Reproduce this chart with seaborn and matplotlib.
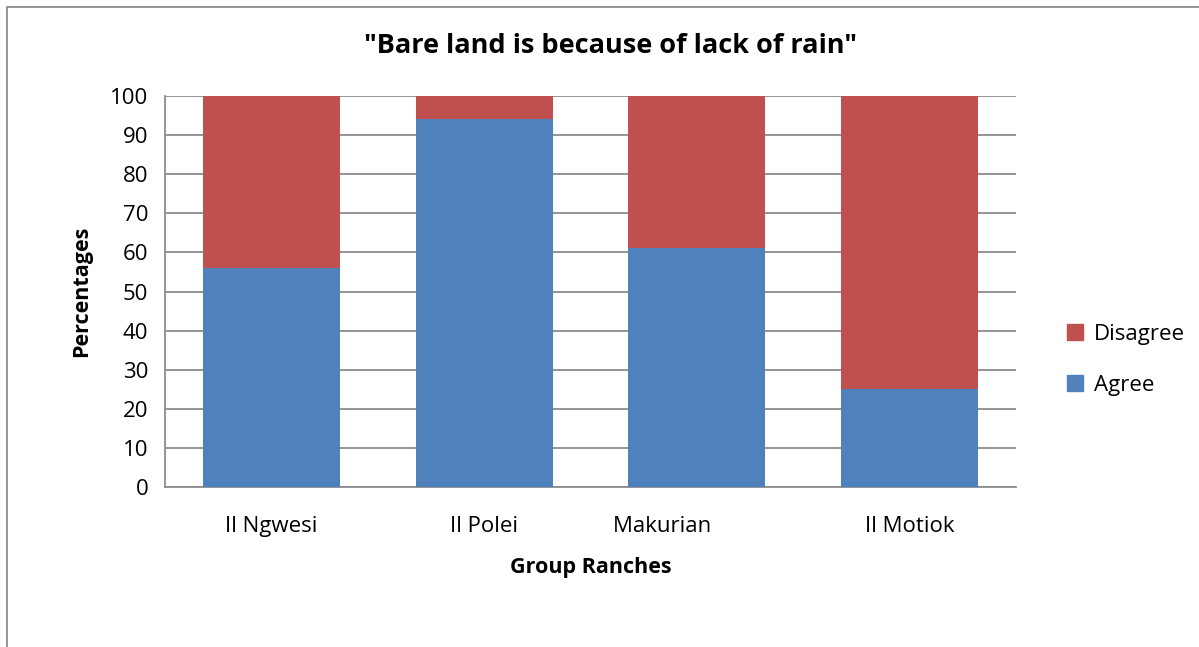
import pandas as pd
import numpy as np
import matplotlib
matplotlib.use('Agg')
import matplotlib.pyplot as plt
import seaborn as sns
from matplotlib.patches import Patch, Rectangle

# --- data ---
ranches = ['Il Ngwesi', 'Il Polei', 'Makurian', 'Il Motiok']
agree = [56, 94, 61, 25]
disagree = [44, 6, 39, 75]
tick_labels = ['Il Ngwesi', 'Il Polei', 'Makurian            ', 'Il Motiok']

df = pd.DataFrame({'Ranch': ranches, 'Agree': agree, 'Disagree': disagree})
df['Total'] = df['Agree'] + df['Disagree']

sns.set_style('white')
plt.rcParams['font.family'] = ['Open Sans', 'DejaVu Sans']
plt.rcParams['text.color'] = 'black'
plt.rcParams['xtick.color'] = 'black'
plt.rcParams['ytick.color'] = 'black'
plt.rcParams['axes.labelcolor'] = 'black'

blue = '#4F81BD'
red = '#C0504D'
grid_c = '#8C8C8C'

fig = plt.figure(figsize=(11.99, 6.47), dpi=100)
ax = fig.add_axes([165 / 1199, 1 - 487 / 647, 851 / 1199, 391 / 647])

# stacked: full bar red, agree part blue on top of it
sns.barplot(data=df, x='Ranch', y='Total', color=red, width=0.643,
            saturation=1, ax=ax, zorder=2, linewidth=0)
sns.barplot(data=df, x='Ranch', y='Agree', color=blue, width=0.643,
            saturation=1, ax=ax, zorder=3, linewidth=0)

ax.set_xlim(-0.5, 3.5)
ax.set_ylim(0, 100)
ax.set_yticks(range(0, 101, 10))
ax.yaxis.grid(True, color=grid_c, linewidth=1.3, zorder=0)
ax.set_axisbelow(True)
for s in ['top', 'right']:
    ax.spines[s].set_visible(False)
for s in ['left', 'bottom']:
    ax.spines[s].set_color(grid_c)
    ax.spines[s].set_linewidth(1.3)

ax.set_xticks(range(len(ranches)))
ax.set_xticklabels(tick_labels)
ax.tick_params(axis='x', labelsize=16, length=0, pad=21)
ax.tick_params(axis='y', labelsize=16, length=5, color=grid_c, labelcolor='black',
               pad=7, direction='out')
ax.set_xlabel('Group Ranches', fontsize=15.5, fontweight='bold', labelpad=14)
ax.set_ylabel('Percentages', fontsize=15.5, fontweight='bold', labelpad=13)

fig.text(610 / 1199, 1 - 46 / 647, '"Bare land is because of lack of rain"',
         ha='center', va='center', fontsize=19.5, fontweight='bold')

handles = [Patch(color=red, label='Disagree'), Patch(color=blue, label='Agree')]
fig.legend(handles=handles, loc='center left', bbox_to_anchor=(1047 / 1199, 1 - 360 / 647),
           frameon=False, fontsize=16, handlelength=0.7, handleheight=0.7,
           labelspacing=1.35, handletextpad=0.5)

# outer chart border
fig.patches.append(Rectangle((7 / 1199, -0.1), 1.2, 1 - 7 / 647 + 0.1,
                             transform=fig.transFigure, fill=False,
                             edgecolor=grid_c, linewidth=1.3))

fig.savefig('out.png', dpi=100)
